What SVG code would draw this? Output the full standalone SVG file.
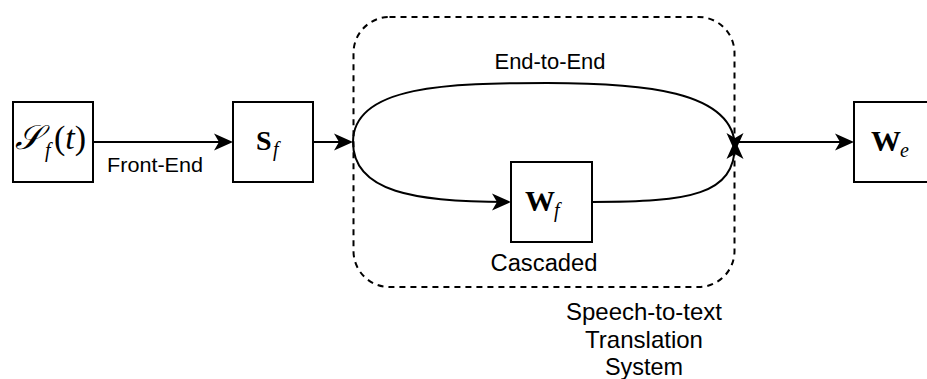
<svg xmlns="http://www.w3.org/2000/svg" width="927" height="379" viewBox="0 0 927 379">
  <style>
    .box { fill: #ffffff; stroke: #000000; stroke-width: 2; }
    .edge { fill: none; stroke: #000000; stroke-width: 2; }
    .frame { fill: none; stroke: #000000; stroke-width: 2; stroke-dasharray: 6 5; }
    .lbl { font-family: "Liberation Sans", Arial, Helvetica, sans-serif; fill: #000000; text-anchor: middle; }
    .math { font-family: "Liberation Serif", "DejaVu Serif", serif; fill: #000000; }
    .bold { font-weight: bold; }
    .it { font-style: italic; }
  </style>
  <defs>
    <!-- classic arrowhead; the path end sits 4px behind the tip -->
    <marker id="arrow" markerUnits="userSpaceOnUse" markerWidth="26" markerHeight="22" viewBox="-20 -11 26 22" refX="0" refY="0" orient="auto">
      <path d="M4,0 L-15,-8.5 L-10,0 L-15,8.5 Z" fill="#000000"/>
    </marker>
  </defs>

  <!-- dashed system boundary -->
  <g id="system">
    <rect class="frame" x="353.5" y="17" width="381" height="270" rx="36" ry="36"/>
    <text class="lbl" x="644" y="320" font-size="24" textLength="156" lengthAdjust="spacingAndGlyphs">Speech-to-text</text>
    <text class="lbl" x="644" y="348" font-size="24" textLength="118" lengthAdjust="spacingAndGlyphs">Translation</text>
    <text class="lbl" x="644" y="375" font-size="24" textLength="78" lengthAdjust="spacingAndGlyphs">System</text>
  </g>

  <g id="connectors">
    <!-- front-end -->
    <path class="edge" d="M93,142 L229,142" marker-end="url(#arrow)"/>
    <text class="lbl" x="155" y="171.5" font-size="21" textLength="96" lengthAdjust="spacingAndGlyphs">Front-End</text>
    <!-- into the system -->
    <path class="edge" d="M313,142 L349,142" marker-end="url(#arrow)"/>
    <!-- end-to-end branch -->
    <path class="edge" d="M353,142 C353,85 450,83 547,83 C640,83 735,90 735,148" marker-end="url(#arrow)"/>
    <text class="lbl" x="550" y="69" font-size="22" textLength="111" lengthAdjust="spacingAndGlyphs">End-to-End</text>
    <!-- cascaded branch -->
    <path class="edge" d="M353,142 C353,192 415,202 507,202" marker-end="url(#arrow)"/>
    <path class="edge" d="M592,202 C690,202 735,195 735,144" marker-end="url(#arrow)"/>
    <text class="lbl" x="544" y="270.5" font-size="23" textLength="107" lengthAdjust="spacingAndGlyphs">Cascaded</text>
    <!-- output -->
    <path class="edge" d="M735,142 L850,142" marker-end="url(#arrow)"/>
  </g>

  <g id="node-signal">
    <rect class="box" x="13" y="102" width="80" height="80"/>
    <text class="math it" x="15" y="149" font-size="34">𝒮</text>
    <text class="math it" x="45" y="157" font-size="20">f</text>
    <text class="math" x="54" y="149" font-size="34">(<tspan class="it">t</tspan>)</text>
  </g>

  <g id="node-features">
    <rect class="box" x="233" y="102" width="80" height="80"/>
    <text class="math bold" x="256" y="150" font-size="28">S</text>
    <text class="math it" x="273" y="156" font-size="20">f</text>
  </g>

  <g id="node-foreign-text">
    <rect class="box" x="511" y="162" width="81" height="80"/>
    <text class="math bold" x="525" y="211" font-size="30">W</text>
    <text class="math it" x="554" y="217" font-size="20">f</text>
  </g>

  <g id="node-english-text">
    <rect class="box" x="854" y="102" width="80" height="80"/>
    <text class="math bold" x="871" y="151" font-size="30">W</text>
    <text class="math it" x="900" y="157" font-size="20">e</text>
  </g>
</svg>
